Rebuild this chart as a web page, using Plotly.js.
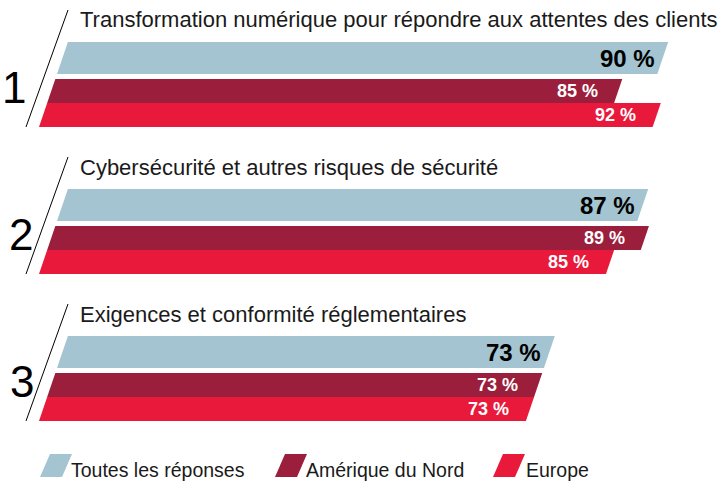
<!DOCTYPE html>
<html>
<head>
<meta charset="utf-8">
<script src="https://cdn.plot.ly/plotly-3.0.1.min.js"></script>
<style>html,body{margin:0;padding:0;background:#fff}#chart{width:720px;height:484px}</style>
</head>
<body>
<div id="chart"></div>
<script>
// ---- data ----
const categories = [
  "Transformation numérique pour répondre aux attentes des clients",
  "Cybersécurité et autres risques de sécurité",
  "Exigences et conformité réglementaires"
];
const ranks = ["1", "2", "3"];
const seriesNames = ["Toutes les réponses", "Amérique du Nord", "Europe"];
const toutesValues = [90, 87, 73];
const ameriqueValues = [85, 89, 73];
const europeValues = [92, 85, 73];

// ---- layout constants ----
const W = 720, H = 484;
const PX = 6.67;          // pixels per percent
const X0 = 39;            // pixel where 0 % sits at the bottom of each group
const SLOPE = 0.34;       // slant of left/right edges (px per px)
const groupBase = [127, 274, 421];
const colors = ["#a3c4d0", "#9b1f3c", "#e8193a"];
// rows: [top offset, bottom offset] above group base (px)
const rowOff = [[85, 53], [48, 24], [24, 0]];
const labelStyle = [
  {size: 24, color: "#000000", shift: -6},
  {size: 18, color: "#ffffff", shift: -18},
  {size: 18, color: "#ffffff", shift: -19}
];
const allSeries = [toutesValues, ameriqueValues, europeValues];
const FONT = "Liberation Sans, Arial, Helvetica, sans-serif";

const px2u = p => (p - X0) / PX;
const slant = (yb, y) => (yb - y) * SLOPE / PX;
const xp = p => p / W;
const yp = p => 1 - p / H;

const traces = [];
const annotations = [];
const shapes = [];

categories.forEach((cat, g) => {
  const yb = groupBase[g];
  allSeries.forEach((vals, s) => {
    const v = vals[g];
    const yt = yb - rowOff[s][0], ybo = yb - rowOff[s][1];
    const st = slant(yb, yt), sb = slant(yb, ybo);
    traces.push({
      type: "scatter", mode: "lines", fill: "toself",
      x: [sb, st, st + v, sb + v, sb],
      y: [ybo, yt, yt, ybo, ybo],
      fillcolor: colors[s], line: {width: 0, color: colors[s]},
      hoverinfo: "skip", showlegend: false
    });
    const ym = (yt + ybo) / 2;
    annotations.push({
      x: slant(yb, ym) + v, y: ym, xref: "x", yref: "y",
      text: "<b>" + v + " %</b>", showarrow: false,
      xanchor: "right", yanchor: "middle", xshift: labelStyle[s].shift,
      font: {family: FONT, size: labelStyle[s].size, color: labelStyle[s].color}
    });
  });
  // category title
  annotations.push({
    x: xp(78), y: yp(yb - 107), xref: "paper", yref: "paper",
    text: cat, showarrow: false, xanchor: "left", yanchor: "middle",
    font: {family: FONT, size: 22, color: "#1a1a1a"}
  });
  // rank number
  annotations.push({
    x: xp([14, 21, 22][g]), y: yp(yb - 40), xref: "paper", yref: "paper",
    text: ranks[g], showarrow: false, xanchor: "center", yanchor: "middle",
    font: {family: FONT, size: 44, color: "#000000", weight: 300}
  });
  // slash line
  shapes.push({
    type: "line", xref: "paper", yref: "paper",
    x0: xp(26), y0: yp(yb), x1: xp(68), y1: yp(yb - 117),
    line: {color: "#000000", width: 1}
  });
});

// legend (custom parallelogram swatches)
const legendSwatchX = [40, 275, 493];
const legendTextX = [69, 304, 524];
seriesNames.forEach((name, s) => {
  const x = legendSwatchX[s];
  const top = 454, bot = 477;
  shapes.push({
    type: "path", xref: "paper", yref: "paper",
    path: `M ${xp(x)} ${yp(bot)} L ${xp(x + 10)} ${yp(top)} L ${xp(x + 32)} ${yp(top)} L ${xp(x + 22)} ${yp(bot)} Z`,
    fillcolor: colors[s], line: {width: 0}
  });
  annotations.push({
    x: xp(legendTextX[s]), y: yp(470), xref: "paper", yref: "paper",
    text: name, showarrow: false, xanchor: "left", yanchor: "middle",
    font: {family: FONT, size: 19.5, color: "#1a1a1a"}
  });
});

const layout = {
  width: W, height: H,
  margin: {l: 0, r: 0, t: 0, b: 0},
  paper_bgcolor: "#ffffff", plot_bgcolor: "#ffffff",
  xaxis: {range: [px2u(0), px2u(W)], visible: false, fixedrange: true},
  yaxis: {range: [H, 0], visible: false, fixedrange: true},
  showlegend: false,
  annotations: annotations, shapes: shapes
};

Plotly.newPlot("chart", traces, layout, {staticPlot: true, displayModeBar: false});
</script>
</body>
</html>
